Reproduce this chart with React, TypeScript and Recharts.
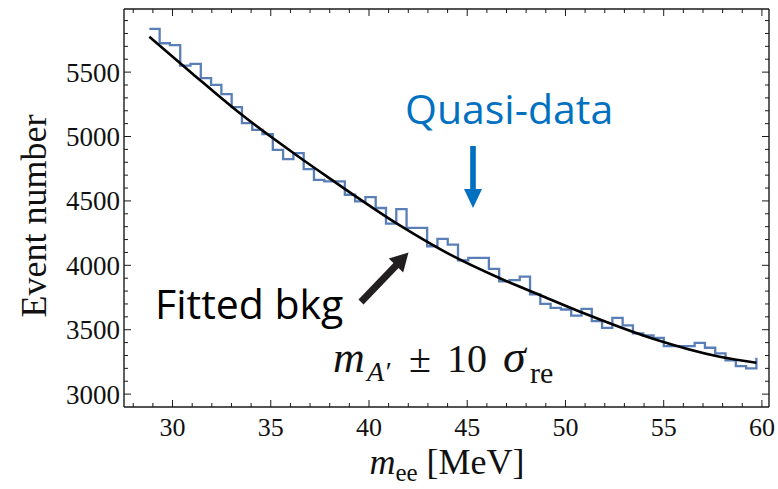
import React from 'react';
import { LineChart, Line, XAxis, YAxis } from 'recharts';

// Histogram ("Quasi-data"): 59 bins starting at binStart, width binWidth (MeV)
const binStart = 28.82;
const binWidth = 0.5237;
const counts = [
  5835, 5724, 5709, 5550, 5564, 5453, 5401, 5329, 5228, 5104,
  5052, 5019, 4897, 4825, 4871, 4747, 4664, 4651, 4651, 4548,
  4496, 4530, 4445, 4323, 4437, 4290, 4290, 4148, 4205, 4161,
  4039, 4058, 4058, 3972, 3876, 3885, 3912, 3775, 3700, 3670,
  3657, 3610, 3662, 3566, 3514, 3592, 3533, 3471, 3455, 3437,
  3372, 3372, 3372, 3398, 3360, 3316, 3262, 3217, 3200,
];
const lastEdgeTop = 3282;

// Fitted background curve (read points)
const fitM = [28.82, 31, 33.43, 36.49, 37.76, 41.57, 44.11, 46.66, 48.69, 51.07, 54.46, 57.85, 59.72];
const fitV = [5775, 5490, 5180, 4835, 4700, 4310, 4085, 3900, 3770, 3620, 3430, 3290, 3243];

// Axes
const xDomain = [27.53, 60.36];
const yDomain = [2900, 5990];
const xTicks = Array.from({ length: 33 }, (_, i) => 28 + i);
const xMajor = [30, 35, 40, 45, 50, 55, 60];
const yTicks = Array.from({ length: 30 }, (_, i) => 3000 + i * 100);
const yMajor = [3000, 3500, 4000, 4500, 5000, 5500];

const histData = [
  ...counts.map((v, i) => ({ m: binStart + i * binWidth, v })),
  { m: binStart + counts.length * binWidth, v: lastEdgeTop },
];
const fitData = fitM.map((m, i) => ({ m, v: fitV[i] }));

const AX = '#1a1a1a';
const SERIF = '"Liberation Serif", "Times New Roman", serif';
const SANS = '"Open Sans", "Noto Sans", sans-serif';

const BottomTick = (p: any) => {
  const { x, y, payload } = p;
  const major = xMajor.includes(payload.value);
  return (
    <g>
      <line x1={x} x2={x} y1={y} y2={y - (major ? 7 : 4)} stroke={AX} strokeWidth={1} />
      {major && (
        <text x={x} y={y + 29} textAnchor="middle" fontFamily={SERIF} fontSize={26} fill="#111">
          {payload.value}
        </text>
      )}
    </g>
  );
};
const TopTick = (p: any) => {
  const { x, y, payload } = p;
  const major = xMajor.includes(payload.value);
  return <line x1={x} x2={x} y1={y} y2={y + (major ? 7 : 4)} stroke={AX} strokeWidth={1} />;
};
const LeftTick = (p: any) => {
  const { x, y, payload } = p;
  const major = yMajor.includes(payload.value);
  return (
    <g>
      <line x1={x} x2={x + (major ? 7 : 4)} y1={y} y2={y} stroke={AX} strokeWidth={1} />
      {major && (
        <text x={x - 4} y={y} dy="0.35em" textAnchor="end" fontFamily={SERIF} fontSize={27} fill="#111">
          {payload.value}
        </text>
      )}
    </g>
  );
};
const RightTick = (p: any) => {
  const { x, y, payload } = p;
  const major = yMajor.includes(payload.value);
  return <line x1={x} x2={x - (major ? 7 : 4)} y1={y} y2={y} stroke={AX} strokeWidth={1} />;
};

export default function App() {
  const axisLine = { stroke: AX, strokeWidth: 1.4 };
  return (
    <div style={{ position: 'absolute', left: 0, top: 0, width: 778, height: 489, background: '#fff' }}>
      <LineChart width={778} height={489} margin={{ top: 8, right: 8, bottom: 0, left: 0 }}>
        <XAxis xAxisId="b" dataKey="m" type="number" domain={xDomain} ticks={xTicks} interval={0}
          allowDataOverflow height={82} tickSize={0} tickMargin={0} tick={BottomTick} axisLine={axisLine} tickLine={false} />
        <XAxis xAxisId="t" dataKey="m" type="number" orientation="top" domain={xDomain} ticks={xTicks} interval={0}
          allowDataOverflow height={1} tickSize={0} tickMargin={0} tick={TopTick} axisLine={axisLine} tickLine={false} />
        <YAxis yAxisId="l" type="number" domain={yDomain} ticks={yTicks} interval={0}
          allowDataOverflow width={124} tickSize={0} tickMargin={0} tick={LeftTick} axisLine={axisLine} tickLine={false} />
        <YAxis yAxisId="r" type="number" orientation="right" domain={yDomain} ticks={yTicks} interval={0}
          allowDataOverflow width={1} tickSize={0} tickMargin={0} tick={RightTick} axisLine={axisLine} tickLine={false} />
        <Line xAxisId="b" yAxisId="l" data={histData} dataKey="v" type="stepAfter" stroke="#5A7FB8"
          strokeWidth={2.3} dot={false} activeDot={false} isAnimationActive={false} />
        <Line xAxisId="t" yAxisId="r" data={fitData} dataKey="v" type="monotone" stroke="#000"
          strokeWidth={2.6} dot={false} activeDot={false} isAnimationActive={false} />
      </LineChart>
      <svg width={778} height={489} style={{ position: 'absolute', left: 0, top: 0, pointerEvents: 'none' }}>
        {/* axis titles */}
        <text transform="rotate(-90)" x={-216} y={46} textAnchor="middle" fontFamily={SERIF} fontSize={36} fill="#111">
          Event number
        </text>
        <text x={447} y={474} textAnchor="middle" fontFamily={SERIF} fontSize={36} fill="#111">
          <tspan fontStyle="italic">m</tspan>
          <tspan fontSize={25} dy={7}>ee</tspan>
          <tspan dy={-7}> [MeV]</tspan>
        </text>
        {/* Quasi-data annotation */}
        <text x={405} y={124} fontFamily={SANS} fontSize={41} fill="#0070C0">Quasi-data</text>
        <rect x={470.2} y={146} width={5.6} height={45} fill="#0070C0" />
        <polygon points="464,189 482,189 473,208" fill="#0070C0" />
        {/* Fitted bkg annotation */}
        <text x={155} y={319} fontFamily={SANS} fontSize={41} fill="#000">Fitted bkg</text>
        <line x1={361} y1={302} x2={397} y2={264.5} stroke="#231F20" strokeWidth={7} />
        <polygon points="408.5,252.5 388.8,258.6 403.2,272.4" fill="#231F20" />
        {/* math label */}
        <text fontFamily={SERIF} fill="#111">
          <tspan x={333} y={372} fontStyle="italic" fontSize={44}>m</tspan>
          <tspan x={367} y={381} fontStyle="italic" fontSize={28}>A′</tspan>
          <tspan x={409} y={372} fontSize={40}>±</tspan>
          <tspan x={447} y={372} fontSize={40}>10</tspan>
          <tspan x={503} y={372} fontStyle="italic" fontSize={46}>σ</tspan>
          <tspan x={530} y={383} fontSize={30}>re</tspan>
        </text>
      </svg>
    </div>
  );
}
